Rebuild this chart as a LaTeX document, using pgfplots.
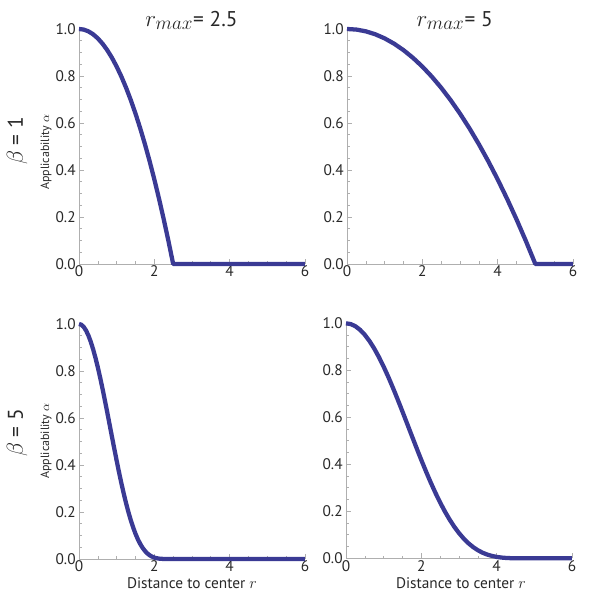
\documentclass[border=0pt]{standalone}
\usepackage{fontspec}
\setmainfont{PT Sans}
\usepackage{pgfplots}
\pgfplotsset{compat=1.18}
\definecolor{curve}{RGB}{58,58,148}
\definecolor{axgray}{RGB}{175,175,175}
\definecolor{lblgray}{RGB}{40,40,40}

% Four panels: alpha = (1-(r/rmax)^2)^beta, values tabulated
\pgfplotstableread{
r a
0 1
0.125 0.9975
0.25 0.99
0.375 0.9775
0.5 0.96
0.625 0.9375
0.75 0.91
0.875 0.8775
1.0 0.84
1.125 0.7975
1.25 0.75
1.375 0.6975
1.5 0.64
1.625 0.5775
1.75 0.51
1.875 0.4375
2.0 0.36
2.125 0.2775
2.25 0.19
2.375 0.0975
2.5 0
6 0
}\tlA
\pgfplotstableread{
r a
0 1
0.25 0.9975
0.5 0.99
0.75 0.9775
1.0 0.96
1.25 0.9375
1.5 0.91
1.75 0.8775
2.0 0.84
2.25 0.7975
2.5 0.75
2.75 0.6975
3.0 0.64
3.25 0.5775
3.5 0.51
3.75 0.4375
4.0 0.36
4.25 0.2775
4.5 0.19
4.75 0.0975
5.0 0
6 0
}\trA
\pgfplotstableread{
r a
0 1
0.0625 0.99688
0.125 0.98756
0.1875 0.97219
0.25 0.95099
0.3125 0.92428
0.375 0.89245
0.4375 0.85597
0.5 0.81537
0.5625 0.77124
0.625 0.72420
0.6875 0.67490
0.75 0.62403
0.8125 0.57227
0.875 0.52027
0.9375 0.46872
1.0 0.41821
1.0625 0.36933
1.125 0.32259
1.1875 0.27846
1.25 0.23730
1.3125 0.19944
1.375 0.16510
1.4375 0.13438
1.5 0.10737
1.5625 0.08403
1.625 0.06425
1.6875 0.04781
1.75 0.034503
1.8125 0.024021
1.875 0.016031
1.9375 0.010160
2.0 0.0060466
2.0625 0.003323
2.125 0.001645
2.1875 0.000707
2.25 0.000248
2.3125 0.000063
2.375 0.00001
2.5 0
6 0
}\blA
\pgfplotstableread{
r a
0 1
0.125 0.99688
0.25 0.98756
0.375 0.97219
0.5 0.95099
0.625 0.92428
0.75 0.89245
0.875 0.85597
1.0 0.81537
1.125 0.77124
1.25 0.72420
1.375 0.67490
1.5 0.62403
1.625 0.57227
1.75 0.52027
1.875 0.46872
2.0 0.41821
2.125 0.36933
2.25 0.32259
2.375 0.27846
2.5 0.23730
2.625 0.19944
2.75 0.16510
2.875 0.13438
3.0 0.10737
3.125 0.08403
3.25 0.06425
3.375 0.04781
3.5 0.034503
3.625 0.024021
3.75 0.016031
3.875 0.010160
4.0 0.0060466
4.125 0.003323
4.25 0.001645
4.375 0.000707
4.5 0.000248
4.625 0.000063
4.75 0.00001
5.0 0
6 0
}\brA

\pgfplotsset{panel/.style={
  scale only axis, width=169.5pt, height=176.25pt,
  anchor=south west, xmin=0, xmax=6, ymin=0, ymax=1,
  axis lines*=left, axis line style={axgray, line width=0.6pt},
  clip=false,
  xtick={0,2,4,6}, ytick={0,0.2,0.4,0.6,0.8,1.0},
  minor x tick num=3, minor y tick num=3,
  tick align=inside, tick style={axgray, line width=0.5pt},
  major tick length=4pt, minor tick length=2pt,
  /pgf/number format/assume math mode=true,
  yticklabel style={/pgf/number format/fixed, /pgf/number format/fixed zerofill, /pgf/number format/precision=1, xshift=1pt},
  ticklabel style={font=\fontsize{11.5}{12}\selectfont, text=lblgray},
  xticklabel style={yshift=2pt},
}}

\begin{document}
\begin{tikzpicture}
\useasboundingbox (0pt,0pt) rectangle (454.5pt,449.25pt);

\begin{axis}[panel, at={(59.25pt,251.25pt)}]
  \addplot[curve, line width=3.2pt, line join=round] table[x=r,y=a]{\tlA};
\end{axis}
\begin{axis}[panel, at={(260.25pt,251.25pt)}]
  \addplot[curve, line width=3.2pt, line join=round] table[x=r,y=a]{\trA};
\end{axis}
\begin{axis}[panel, at={(59.25pt,30pt)}]
  \addplot[curve, line width=3.2pt, line join=round] table[x=r,y=a]{\blA};
\end{axis}
\begin{axis}[panel, at={(259.5pt,30.5pt)}]
  \addplot[curve, line width=3.2pt, line join=round] table[x=r,y=a]{\brA};
\end{axis}

% column titles
\node[font=\fontsize{16}{18}\selectfont, text=lblgray] at (143.6pt,434pt) {{\fontsize{19}{20}\selectfont$r_{max}$}= 2.5};
\node[font=\fontsize{16}{18}\selectfont, text=lblgray] at (341pt,434pt) {{\fontsize{19}{20}\selectfont$r_{max}$}= 5};
% row labels
\node[rotate=90, font=\fontsize{16}{18}\selectfont, text=lblgray] at (12.75pt,343.5pt) {{\fontsize{19}{20}\selectfont$\beta$} = 1};
\node[rotate=90, font=\fontsize{16}{18}\selectfont, text=lblgray] at (12.75pt,124.5pt) {{\fontsize{19}{20}\selectfont$\beta$} = 5};
% y labels
\node[rotate=90, font=\fontsize{9}{10}\selectfont, text=lblgray] at (34.5pt,335pt) {Applicability $\alpha$};
\node[rotate=90, font=\fontsize{9}{10}\selectfont, text=lblgray] at (34.5pt,118.5pt) {Applicability $\alpha$};
% x labels
\node[font=\fontsize{11.5}{12}\selectfont, text=lblgray] at (144pt,12pt) {Distance to center $r$};
\node[font=\fontsize{11.5}{12}\selectfont, text=lblgray] at (345.75pt,12pt) {Distance to center $r$};
\end{tikzpicture}
\end{document}
